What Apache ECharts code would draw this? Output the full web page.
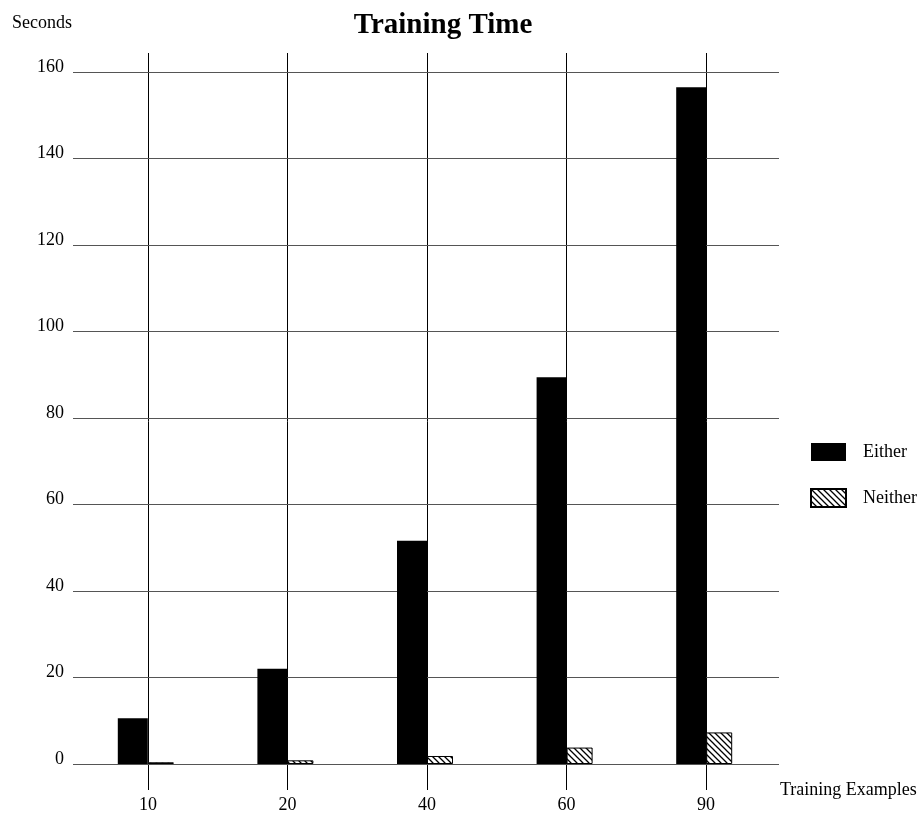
<!DOCTYPE html>
<html>
<head>
<meta charset="utf-8">
<script src="https://cdn.jsdelivr.net/npm/echarts@6/dist/echarts.min.js"></script>
<style>
  html, body { margin: 0; padding: 0; background: #fff; }
  #chart { width: 924px; height: 814px; }
</style>
</head>
<body>
<div id="chart"></div>
<script>
// data
const categories = ['10', '20', '40', '60', '90'];
const eitherValues = [10.6, 22, 51.6, 89.4, 156.5];
const neitherValues = [0.4, 0.85, 1.85, 3.8, 7.3];
const yTicks = [0, 20, 40, 60, 80, 100, 120, 140, 160];

const FONT = '"Liberation Serif", "DejaVu Serif", serif';

// hatch pattern for "Neither"
function makeHatch() {
  const c = document.createElement('canvas');
  c.width = 6;
  c.height = 6;
  const ctx = c.getContext('2d');
  ctx.fillStyle = '#fff';
  ctx.fillRect(0, 0, 6, 6);
  ctx.strokeStyle = '#000';
  ctx.lineWidth = 1.3;
  ctx.beginPath();
  ctx.moveTo(-1, -1); ctx.lineTo(7, 7);
  ctx.moveTo(-4, 2); ctx.lineTo(4, 10);
  ctx.moveTo(2, -4); ctx.lineTo(10, 4);
  ctx.stroke();
  return c;
}

const chart = echarts.init(document.getElementById('chart'), null, { renderer: 'canvas' });

const option = {
  backgroundColor: '#fff',
  animation: false,
  textStyle: { fontFamily: FONT, color: '#000' },
  title: {
    text: 'Training Time',
    left: 443,
    top: 11,
    padding: 0,
    textAlign: 'center',
    textStyle: { fontFamily: FONT, fontSize: 29, fontWeight: 'bold', color: '#000' }
  },
  graphic: [
    { type: 'text', left: 12, top: 14, style: { text: 'Seconds', font: '18px ' + FONT, fill: '#000' } },
    { type: 'text', left: 780, top: 781, style: { text: 'Training Examples', font: '18px ' + FONT, fill: '#000' } }
  ],
  legend: {
    orient: 'vertical',
    left: 810,
    top: 443,
    padding: 0,
    icon: 'rect',
    itemWidth: 35,
    itemHeight: 18,
    itemGap: 27,
    textStyle: { fontFamily: FONT, fontSize: 18, color: '#000', padding: [0, 0, 0, 12] },
    data: ['Either', 'Neither']
  },
  grid: [
    // Either bars (shifted left so bar ends at category center)
    { left: 63, right: 163, top: 72, bottom: 50 },
    // Neither bars (shifted right so bar starts at category center)
    { left: 91, right: 135, top: 72, bottom: 50 },
    // horizontal grid lines and y labels
    { left: 73, right: 145, top: 72, bottom: 50 },
    // vertical lines and x labels
    { left: 148, right: 218, top: 53, bottom: 17 }
  ],
  xAxis: [
    { gridIndex: 0, type: 'category', data: categories, show: false },
    { gridIndex: 1, type: 'category', data: categories, show: false },
    { gridIndex: 2, type: 'value', show: false },
    {
      gridIndex: 3,
      type: 'value',
      min: 0,
      max: categories.length - 1,
      interval: 1,
      axisLine: { show: false },
      axisTick: { show: false },
      axisLabel: {
        margin: 6,
        fontFamily: FONT,
        fontSize: 18,
        color: '#000',
        formatter: v => categories[v] || ''
      },
      splitLine: { show: true, lineStyle: { color: '#000', width: 1 } }
    }
  ],
  yAxis: [
    { gridIndex: 0, type: 'value', min: 0, max: 160, show: false },
    { gridIndex: 1, type: 'value', min: 0, max: 160, show: false },
    {
      gridIndex: 2,
      type: 'value',
      min: yTicks[0],
      max: yTicks[yTicks.length - 1],
      interval: yTicks[1] - yTicks[0],
      axisLine: { show: false },
      axisTick: { show: false },
      axisLabel: {
        margin: 9,
        fontFamily: FONT,
        fontSize: 18,
        color: '#000',
        verticalAlign: 'bottom',
        lineHeight: 10
      },
      splitLine: { show: true, lineStyle: { color: '#555', width: 1.2 } },
      z: 1
    },
    { gridIndex: 3, type: 'value', show: false }
  ],
  series: [
    {
      name: 'Either',
      type: 'bar',
      xAxisIndex: 0,
      yAxisIndex: 0,
      barWidth: 30,
      data: eitherValues,
      itemStyle: { color: '#000' },
      z: 5
    },
    {
      name: 'Neither',
      type: 'bar',
      xAxisIndex: 1,
      yAxisIndex: 1,
      barWidth: 26,
      data: neitherValues,
      itemStyle: { color: { image: makeHatch(), repeat: 'repeat' }, borderColor: '#000', borderWidth: 1 },
      z: 5
    }
  ]
};

chart.setOption(option);
</script>
</body>
</html>
